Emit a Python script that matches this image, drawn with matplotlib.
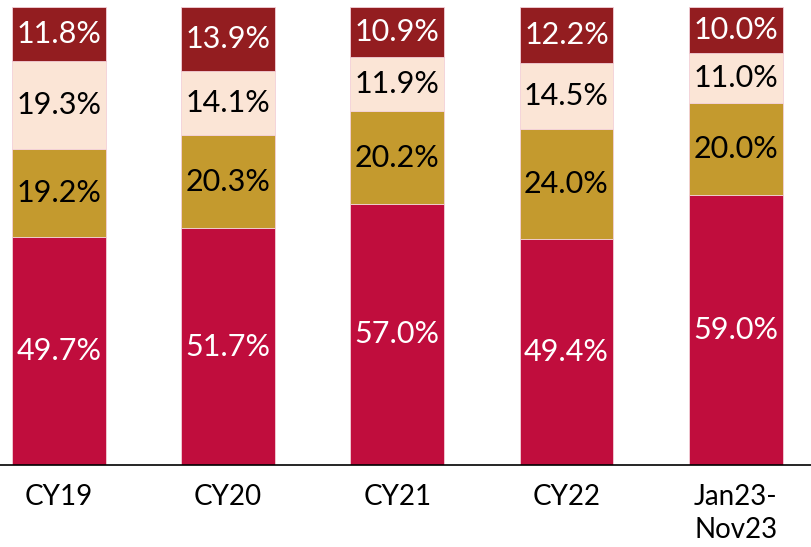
import matplotlib
matplotlib.use("Agg")
import matplotlib.pyplot as plt
import numpy as np

# data (percent shares, bottom to top)
periods = ["CY19", "CY20", "CY21", "CY22", "Jan23-\nNov23"]
seg1 = [49.7, 51.7, 57.0, 49.4, 59.0]
seg2 = [19.2, 20.3, 20.2, 24.0, 20.0]
seg3 = [19.3, 14.1, 11.9, 14.5, 11.0]
seg4 = [11.8, 13.9, 10.9, 12.2, 10.0]

series = [seg1, seg2, seg3, seg4]
colors = ["#C00D3D", "#C49A2E", "#FBE5D6", "#931D20"]
txt_colors = ["white", "black", "black", "white"]

plt.rcParams["font.family"] = ["Lato", "DejaVu Sans"]

fig = plt.figure(figsize=(8.12, 5.47), dpi=100)
ax = fig.add_axes([0, 0.150, 1, 0.837])

x = np.arange(len(periods))
bottom = np.zeros(len(periods))
for vals, c, tc in zip(series, colors, txt_colors):
    vals = np.array(vals)
    ax.bar(x, vals, bottom=bottom, width=0.555, color=c,
           edgecolor="#F3D0D8", linewidth=0.6)
    for xi, b, v in zip(x, bottom, vals):
        ax.text(xi, b + v / 2, f"{v:.1f}%", ha="center", va="center",
                color=tc, fontsize=22)
    bottom += vals

ax.set_xlim(-0.348, 4.451)
ax.set_ylim(0, 100)
ax.set_yticks([])
ax.set_xticks(x)
ax.set_xticklabels(periods, fontsize=20, linespacing=1.3)
ax.tick_params(axis="x", length=0, pad=14)
for s in ["top", "left", "right"]:
    ax.spines[s].set_visible(False)
ax.spines["bottom"].set_color("black")
ax.spines["bottom"].set_linewidth(1.2)

fig.savefig("out.png", dpi=100)
